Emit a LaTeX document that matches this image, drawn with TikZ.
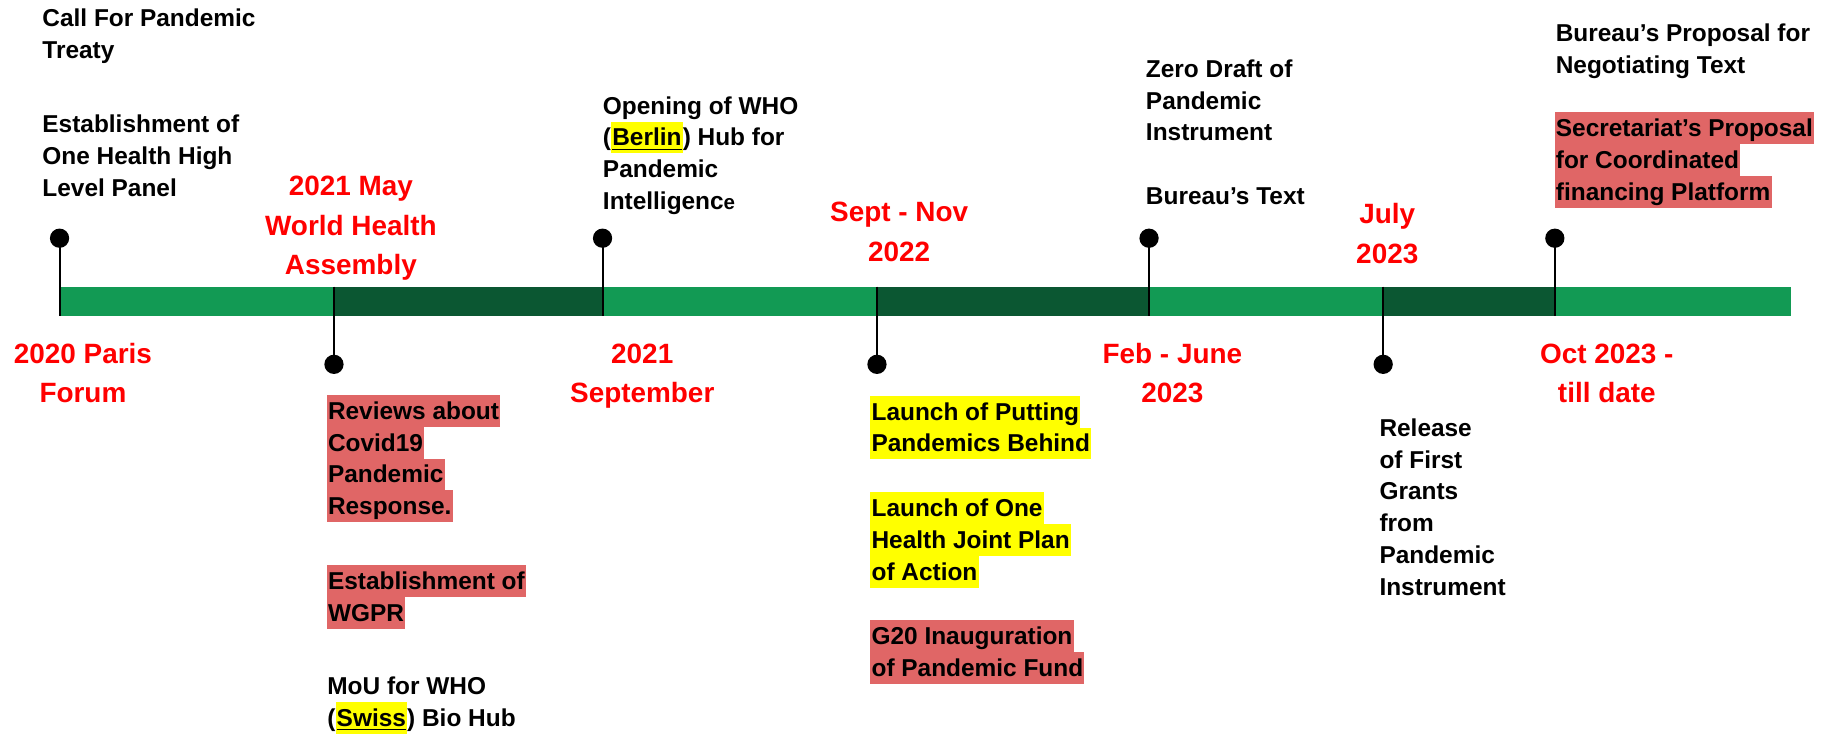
\documentclass[tikz,border=0pt]{standalone}
\usepackage{fontspec}
\setmainfont{Liberation Sans}

\definecolor{bargreen}{HTML}{129A54}
\definecolor{bardark}{HTML}{0B5732}
\definecolor{datered}{HTML}{FF0000}
\definecolor{hlred}{HTML}{E06666}
\definecolor{hlyellow}{HTML}{FFFF00}

\setlength{\fboxsep}{0pt}
\newcommand{\hlstrut}{\rule[-3.6pt]{0pt}{15.45pt}}
\newcommand{\hilite}[2]{\colorbox{#1}{\hlstrut\kern0.6pt#2\kern0.6pt}}

\tikzset{
	event/.style={font=\fontsize{11.9}{15.45}\selectfont\bfseries, align=left, anchor=base west, inner sep=0pt},
	date/.style={font=\fontsize{13.6}{19.4}\selectfont\bfseries, text=datered, align=center, anchor=base, inner sep=0pt},
	dot/.style={circle, fill=black, inner sep=0pt, minimum size=3.3mm},
	stem/.style={line width=1pt}
}

\begin{document}
\begin{tikzpicture}[x=0.2mm,y=-0.2mm]
	\useasboundingbox (0,0) rectangle (1568,629);
	
	\fill[bargreen] (51,245.5) rectangle (1533.5,270.3);
	\foreach \a/\b in {286/516,751/984,1184.5/1331.5}
	{\fill[bardark] (\a,245.5) rectangle (\b,270.3);};
	
	\foreach \x/\n in {51/paris,
		516/berlin,
		984/draft,
		1331.5/proposal%
	}
	{
		\coordinate (bar-\n) at (\x,270.3);
		\node[dot] (dot-\n) at (\x,204) {};
		\draw[stem] (bar-\n) -- (dot-\n.center);
	};
	\foreach \x/\n in {286/wha,
		751/fund,
		1184.5/grants%
	}
	{
		\coordinate (bar-\n) at (\x,245.5);
		\node[dot] (dot-\n) at (\x,312) {};
		\draw[stem] (bar-\n) -- (dot-\n.center);
	};
	
	% dates, placed by the baseline of their last line
	\node[date] (d-paris) at (71,345) {2020 Paris\\Forum};
	\node[date] (d-wha) at (300.5,235.4) {2021 May\\World Health\\Assembly};
	\node[date] (d-sept21) at (550,345) {2021\\September};
	\node[date] (d-sept22) at (770,224) {Sept - Nov\\2022};
	\node[date] (d-feb) at (1004,345) {Feb - June\\2023};
	\node[date] (d-july) at (1188,225.5) {July\\2023};
	\node[date] (d-oct) at (1376,345) {Oct 2023 -\\till date};
	
	\node[event] (treaty) at (36,50) {Call For Pandemic\\Treaty};
	\node[event] (panel) at (36,168) {Establishment of\\One Health High\\Level Panel};
	\node[event] (hub) at (516,179.2) {Opening of WHO\\(\hilite{hlyellow}{\underline{Berlin}}) Hub for\\Pandemic\\Intelligenc{\fontsize{10}{12}\selectfont e}};
	\node[event] (zero) at (981,120.6) {Zero Draft of\\Pandemic\\Instrument};
	\node[event] (bureau) at (981,175) {Bureau’s Text};
	\node[event] (negot) at (1332,62.9) {Bureau’s Proposal for\\Negotiating Text};
	\node[event] (secr) at (1331,171.4) {\hilite{hlred}{Secretariat’s Proposal}\\\hilite{hlred}{for Coordinated}\\\hilite{hlred}{financing Platform}};
	
	\node[event] (reviews) at (279.5,440.7) {\hilite{hlred}{Reviews about}\\\hilite{hlred}{Covid19}\\\hilite{hlred}{Pandemic}\\\hilite{hlred}{Response.}};
	\node[event] (wgpr) at (279.5,531.9) {\hilite{hlred}{Establishment of}\\\hilite{hlred}{WGPR}};
	\node[event] (mou) at (280,622.3) {MoU for WHO\\(\hilite{hlyellow}{\underline{Swiss}}) Bio Hub};
	\node[event] (putting) at (745,387) {\hilite{hlyellow}{Launch of Putting}\\\hilite{hlyellow}{Pandemics Behind}};
	\node[event] (jointplan) at (745,496.8) {\hilite{hlyellow}{Launch of One}\\\hilite{hlyellow}{Health Joint Plan}\\\hilite{hlyellow}{of Action}};
	\node[event] (g20) at (745,579) {\hilite{hlred}{G20 Inauguration}\\\hilite{hlred}{of Pandemic Fund}};
	\node[event] (release) at (1181,509.6) {Release\\of First\\Grants\\from\\Pandemic\\Instrument};
	
\end{tikzpicture}
\end{document}
